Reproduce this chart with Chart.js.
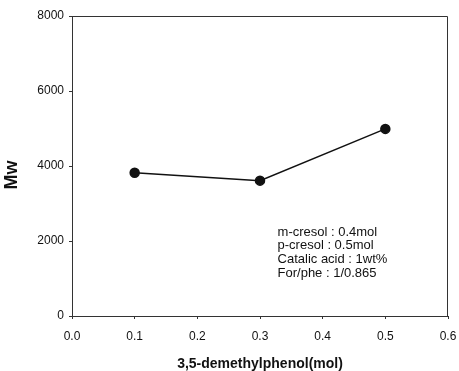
<!DOCTYPE html>
<html>
<head>
<meta charset="utf-8">
<script src="https://cdn.jsdelivr.net/npm/chart.js@4"></script>
<style>
  html,body{margin:0;padding:0;background:#fff;}
  #wrap{width:459px;height:371px;}
</style>
</head>
<body>
<div id="wrap"><canvas id="chart" width="459" height="371"></canvas></div>
<script>
// data
const xValues = [0.1, 0.3, 0.5];
const mwValues = [3820, 3610, 4990];
const yTicks = [0, 2000, 4000, 6000, 8000];
const xTicks = [0.0, 0.1, 0.2, 0.3, 0.4, 0.5, 0.6];
const noteLines = ['m-cresol : 0.4mol', 'p-cresol : 0.5mol', 'Catalic acid : 1wt%', 'For/phe : 1/0.865'];

const ink = '#111';
const fontName = '"Liberation Sans", Arial, sans-serif';

// box round the plot, the y title (sits a bit low in the original) and the note text
const framePlugin = {
    id: 'frame',
    afterDraw(chart) {
        const c = chart.ctx, a = chart.chartArea;
        c.save();
        c.strokeStyle = '#333';
        c.lineWidth = 1;
        c.beginPath();
        c.moveTo(a.left, a.top + 0.5);
        c.lineTo(a.right - 0.5, a.top + 0.5);
        c.lineTo(a.right - 0.5, a.bottom);
        c.stroke();

        // Mw title
        c.save();
        c.translate(12, (a.top + a.bottom) / 2 + 9);
        c.rotate(-Math.PI / 2);
        c.fillStyle = ink;
        c.font = 'bold 18px ' + fontName;
        c.textAlign = 'center';
        c.textBaseline = 'middle';
        c.fillText('Mw', 0, 0);
        c.restore();

        const xs = chart.scales.x, ys = chart.scales.y;
        c.fillStyle = ink;
        c.font = '13px ' + fontName;
        c.textBaseline = 'middle';
        const x0 = xs.getPixelForValue(0.328);
        let y0 = ys.getPixelForValue(2240);
        for (let i = 0; i < noteLines.length; i++) {
            c.fillText(noteLines[i], x0, y0 + i * 13.7);
        }
        c.restore();
    }
};

const ctx = document.getElementById('chart').getContext('2d');
const myChart = new Chart(ctx, {
    type: 'scatter',
    data: {
        datasets: [{
            label: 'Mw',
            data: xValues.map((x, i) => ({x: x, y: mwValues[i]})),
            showLine: true,
            borderColor: ink,
            borderWidth: 1.5,
            backgroundColor: ink,
            pointBackgroundColor: ink,
            pointBorderColor: ink,
            pointRadius: 4.5
        }]
    },
    options: {
        responsive: false,
        animation: false,
        events: [],
        layout: {padding: {left: 0, top: 16, right: 11, bottom: 0}},
        plugins: {legend: {display: false}, tooltip: {enabled: false}},
        scales: {
            x: {
                type: 'linear',
                min: 0, max: 0.6,
                afterBuildTicks: s => { s.ticks = xTicks.map(v => ({value: v})); },
                afterFit: s => { s.height = 55; s.paddingLeft = 0; s.paddingRight = 0; },
                grid: {drawOnChartArea: false, drawTicks: true, tickLength: 3, color: '#333'},
                border: {display: true, color: '#333', width: 1},
                ticks: {
                    color: ink, font: {family: fontName, size: 12}, padding: 10,
                    maxRotation: 0,
                    callback: v => Number(v).toFixed(1)
                },
                title: {
                    display: true, text: '3,5-demethylphenol(mol)', color: ink,
                    font: {family: fontName, size: 14, weight: 'bold'},
                    padding: {top: 10, bottom: -2}
                }
            },
            y: {
                min: 0, max: 8000,
                afterBuildTicks: s => { s.ticks = yTicks.map(v => ({value: v})); },
                afterFit: s => { s.width = 72; },
                grid: {drawOnChartArea: false, drawTicks: true, tickLength: 3, color: '#333'},
                border: {display: true, color: '#333', width: 1},
                ticks: {color: ink, font: {family: fontName, size: 12}, padding: 5,
                    callback: v => String(v)},
                title: {display: false}
            }
        }
    },
    plugins: [framePlugin]
});
</script>
</body>
</html>
